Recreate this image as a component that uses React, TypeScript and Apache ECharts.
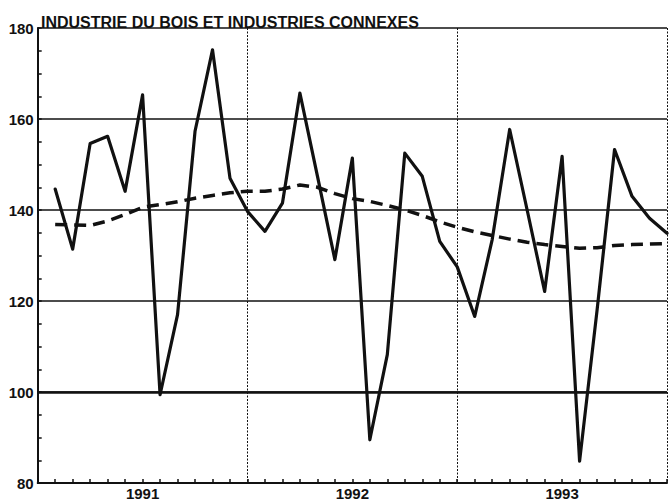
import React, { useEffect, useRef } from "react";
import * as echarts from "echarts";

const TITLE = "INDUSTRIE DU BOIS ET INDUSTRIES CONNEXES";
const YEAR_LABELS: Record<number, string> = { 6: "1991", 18: "1992", 30: "1993" };
const MONTH_INDEX = [
  1, 2, 3, 4, 5, 6, 7, 8, 9, 10, 11, 12,
  13, 14, 15, 16, 17, 18, 19, 20, 21, 22, 23, 24,
  25, 26, 27, 28, 29, 30, 31, 32, 33, 34, 35, 36,
];
const rawValues = [
  144.6, 131.4, 154.6, 156.2, 144.1, 165.3, 99.4, 117.0, 157.3, 175.2, 147.0, 139.7,
  135.3, 141.5, 165.7, 147.5, 129.1, 151.4, 89.5, 108.2, 152.5, 147.4, 133.1, 127.5,
  116.6, 133.5, 157.7, 140.0, 122.1, 151.8, 84.8, 118.0, 153.3, 143.0, 138.2, 134.9,
];
const trendValues = [
  136.8, 136.7, 136.6, 137.6, 139.0, 140.6, 141.2, 141.8, 142.6, 143.2, 143.8, 144.1,
  144.1, 144.6, 145.5, 145.0, 143.6, 142.5, 141.9, 141.0, 140.0, 138.8, 137.4, 136.2,
  135.2, 134.4, 133.6, 132.9, 132.4, 132.0, 131.6, 131.7, 132.2, 132.4, 132.5, 132.6,
];

const INK = "#111";
const FONT = "'Liberation Sans', Arial, Helvetica, sans-serif";

export default function App() {
  const ref = useRef<HTMLDivElement>(null);
  useEffect(() => {
    if (!ref.current) return;
    const chart = echarts.init(ref.current, null, { renderer: "svg" });
    chart.setOption({
      animation: false,
      backgroundColor: "#fff",
      title: {
        text: TITLE,
        left: 36,
        top: 9,
        textStyle: { fontSize: 16, fontWeight: "bold", color: INK, fontFamily: FONT },
      },
      grid: { left: 37.7, right: 1.3, top: 28, bottom: 17.7, containLabel: false },
      xAxis: [
        {
          type: "value",
          min: 0,
          max: 36,
          interval: 1,
          axisLine: { show: true, onZero: false, lineStyle: { color: INK, width: 2 } },
          axisTick: { show: true, inside: true, length: 4, lineStyle: { color: INK, width: 1.5 } },
          axisLabel: {
            show: true,
            margin: 3,
            fontSize: 15,
            fontWeight: "bold",
            color: INK,
            fontFamily: FONT,
            formatter: (v: number) => YEAR_LABELS[v] ?? "",
          },
          splitLine: { show: false },
        },
        {
          type: "value",
          min: 0,
          max: 36,
          interval: 12,
          position: "top",
          axisLine: { show: false },
          axisTick: { show: false },
          axisLabel: { show: false },
          splitLine: { show: true, lineStyle: { color: INK, width: 1, type: [2, 1.5] } },
        },
      ],
      yAxis: {
        type: "value",
        min: 80,
        max: 180,
        interval: 20,
        axisLine: { show: true, onZero: false, lineStyle: { color: INK, width: 2 } },
        axisTick: { show: true, inside: true, length: 4, lineStyle: { color: INK, width: 1.5 } },
        minorTick: { show: true, splitNumber: 4, length: 4, lineStyle: { color: INK, width: 1.5 } },
        axisLabel: {
          margin: 4,
          fontSize: 15,
          fontWeight: "bold",
          color: INK,
          fontFamily: FONT,
        },
        splitLine: { show: true, lineStyle: { color: INK, width: 1.5 } },
      },
      series: [
        {
          type: "line",
          xAxisIndex: 0,
          data: MONTH_INDEX.map((m, i) => [m, rawValues[i]]),
          showSymbol: false,
          symbol: "none",
          lineStyle: { color: INK, width: 3.2, join: "round", cap: "round" },
          markLine: {
            silent: true,
            symbol: "none",
            label: { show: false },
            lineStyle: { color: INK, width: 2.5, type: "solid" },
            data: [{ yAxis: 100 }],
          },
          z: 3,
        },
        {
          type: "line",
          xAxisIndex: 0,
          data: MONTH_INDEX.map((m, i) => [m, trendValues[i]]),
          showSymbol: false,
          symbol: "none",
          lineStyle: { color: INK, width: 3.5, type: [12, 7] },
          z: 2,
        },
      ],
    });
    return () => chart.dispose();
  }, []);
  return (
    <div
      ref={ref}
      style={{ position: "fixed", left: 0, top: 0, width: 670, height: 501, background: "#fff" }}
    />
  );
}
